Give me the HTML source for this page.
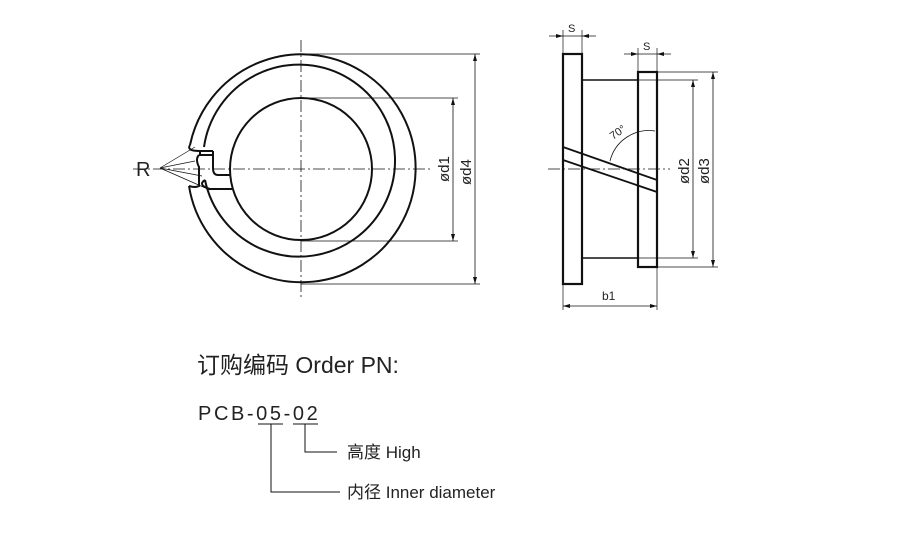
<!DOCTYPE html>
<html><head><meta charset="utf-8"><style>
html,body{margin:0;padding:0;background:#fff;width:900px;height:542px;overflow:hidden}
svg{display:block}
text{font-family:"Liberation Sans","Noto Sans CJK SC",sans-serif;fill:#222}
</style></head><body>
<svg width="900" height="542" viewBox="0 0 900 542" xmlns="http://www.w3.org/2000/svg">
<g stroke="#111" fill="none">
<line x1="301" y1="40" x2="301" y2="298" stroke-width="0.8" stroke-dasharray="12,3,2,3"/>
<line x1="133" y1="169" x2="430" y2="169" stroke-width="0.8" stroke-dasharray="12,3,2,3"/>
<path d="M190,145 A114,114 0 1,1 189,186" stroke-width="2"/>
<path d="M204,147 A96,96 0 1,1 205,180" stroke-width="2"/>
<circle cx="301" cy="169" r="71" stroke-width="2"/>
<path d="M190,145 q-4,6 10,6 h13 M200,151 v4 h13 M199,155 q-4,4 0,12 v19 q-4,2 -10,0 M213,151 v17 q0,7 5,7 M205,180 q-8,5 5,9 h22 M218,175 h12 M211,189 h20" stroke-width="2"/>
<line x1="160" y1="168" x2="195" y2="147" stroke-width="0.7"/>
<line x1="160" y1="168" x2="195" y2="161" stroke-width="0.7"/>
<line x1="160" y1="168" x2="202" y2="176" stroke-width="0.7"/>
<line x1="160" y1="168" x2="210" y2="190" stroke-width="0.7"/>
<line x1="301" y1="54" x2="480" y2="54" stroke-width="0.7"/>
<line x1="301" y1="284" x2="480" y2="284" stroke-width="0.7"/>
<line x1="301" y1="98" x2="458" y2="98" stroke-width="0.7"/>
<line x1="301" y1="241" x2="458" y2="241" stroke-width="0.7"/>
<line x1="453" y1="98" x2="453" y2="241" stroke-width="0.8"/>
<line x1="475" y1="54" x2="475" y2="284" stroke-width="0.8"/>
<line x1="548" y1="169" x2="670" y2="169" stroke-width="0.8" stroke-dasharray="12,3,2,3"/>
<rect x="563" y="54" width="19" height="230" stroke-width="2.2"/>
<rect x="638" y="72" width="19" height="195" stroke-width="2.2"/>
<line x1="582" y1="80" x2="638" y2="80" stroke-width="1.6"/>
<line x1="582" y1="258" x2="638" y2="258" stroke-width="1.6"/>
<line x1="563" y1="147" x2="657" y2="180" stroke-width="1.8"/>
<line x1="563" y1="160" x2="657" y2="192" stroke-width="1.8"/>
<path d="M610,161 A40,40 0 0,1 655,131" stroke-width="0.8"/>
<line x1="638" y1="80" x2="698" y2="80" stroke-width="0.7"/>
<line x1="638" y1="258" x2="698" y2="258" stroke-width="0.7"/>
<line x1="657" y1="72" x2="718" y2="72" stroke-width="0.7"/>
<line x1="657" y1="267" x2="718" y2="267" stroke-width="0.7"/>
<line x1="693" y1="80" x2="693" y2="258" stroke-width="0.8"/>
<line x1="713" y1="72" x2="713" y2="267" stroke-width="0.8"/>
<line x1="563" y1="284" x2="563" y2="310" stroke-width="0.7"/>
<line x1="657" y1="267" x2="657" y2="310" stroke-width="0.7"/>
<line x1="563" y1="306" x2="657" y2="306" stroke-width="0.8"/>
<line x1="563" y1="30" x2="563" y2="54" stroke-width="0.7"/>
<line x1="582" y1="30" x2="582" y2="54" stroke-width="0.7"/>
<line x1="549" y1="36" x2="596" y2="36" stroke-width="0.8"/>
<line x1="638" y1="48" x2="638" y2="72" stroke-width="0.7"/>
<line x1="657" y1="48" x2="657" y2="72" stroke-width="0.7"/>
<line x1="624" y1="54" x2="671" y2="54" stroke-width="0.8"/>
<line x1="258" y1="424" x2="283" y2="424" stroke-width="1"/>
<line x1="293" y1="424" x2="318" y2="424" stroke-width="1"/>
<polyline points="271,424 271,492 340,492" stroke-width="1"/>
<polyline points="305,424 305,452 337,452" stroke-width="1"/>
</g>
<g fill="#111">
<path d="M453,98 l-2,7 h4z M453,241 l-2,-7 h4z M475,54 l-2,7 h4z M475,284 l-2,-7 h4z M693,80 l-2,7 h4z M693,258 l-2,-7 h4z M713,72 l-2,7 h4z M713,267 l-2,-7 h4z M563,306 l7,-2 v4z M657,306 l-7,-2 v4z M563,36 l-7,-2 v4z M582,36 l7,-2 v4z M638,54 l-7,-2 v4z M657,54 l7,-2 v4z"/>
</g>
<text x="136" y="176" font-size="20">R</text>
<text transform="translate(449,182) rotate(-90)" font-size="15">ød1</text>
<text transform="translate(471,185) rotate(-90)" font-size="15">ød4</text>
<text transform="translate(689,184) rotate(-90)" font-size="15">ød2</text>
<text transform="translate(709,184) rotate(-90)" font-size="15">ød3</text>
<text x="568" y="32" font-size="11">S</text>
<text x="643" y="50" font-size="11">S</text>
<text x="602" y="300" font-size="12">b1</text>
<text transform="translate(613,140) rotate(-35)" font-size="11">70°</text>
<text x="197" y="373" font-size="23">订购编码 Order PN:</text>
<text x="198" y="420" font-size="20" letter-spacing="2.6">PCB-05-02</text>
<text x="347" y="458" font-size="17">高度 High</text>
<text x="347" y="498" font-size="17">内径 Inner diameter</text>
</svg>
</body></html>
